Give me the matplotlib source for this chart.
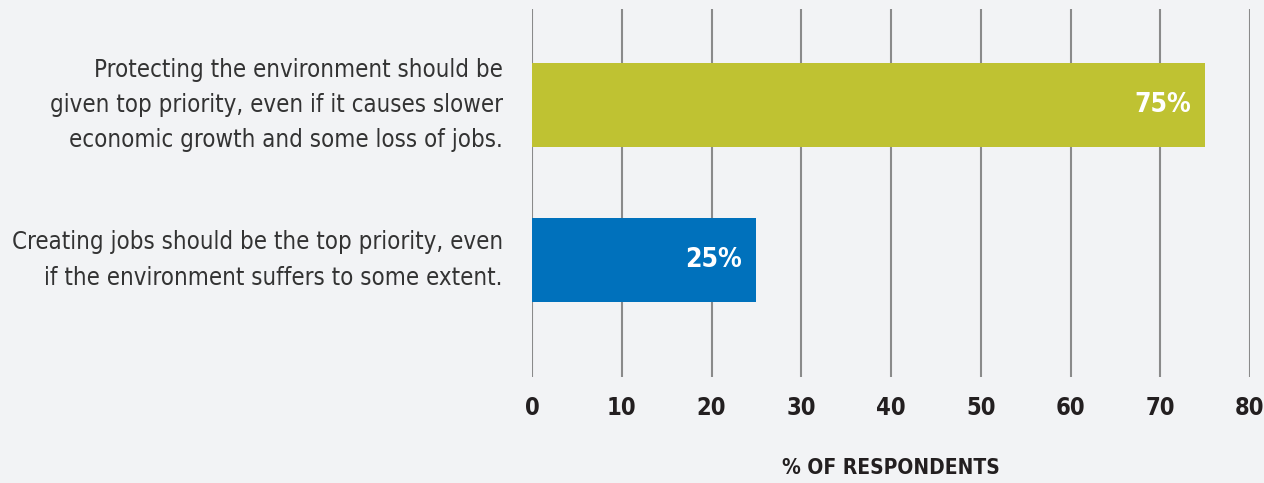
import matplotlib
matplotlib.use("Agg")
import matplotlib.pyplot as plt

# Data
categories = [
    "Protecting the environment should be\ngiven top priority, even if it causes slower\neconomic growth and some loss of jobs.",
    "Creating jobs should be the top priority, even\nif the environment suffers to some extent.",
]
values = [75, 25]
colors = ["#bfc232", "#0071bc"]
xticks = [0, 10, 20, 30, 40, 50, 60, 70, 80]

# condensed face, closest to the original's narrow typeface
plt.rcParams['font.family'] = ['DejaVu Sans']
plt.rcParams['font.stretch'] = 'condensed'

bg = "#f2f3f5"
fig = plt.figure(figsize=(12.64, 4.83), dpi=100, facecolor=bg)
ax = fig.add_axes([532 / 1264, 1 - 377 / 483, (1250 - 532) / 1264, (377 - 9) / 483])
ax.set_facecolor(bg)

ypos = list(range(len(values)))
ax.barh(ypos, values, height=0.54, color=colors, zorder=3)
ax.set_ylim(len(values) - 1 + 0.755, -0.62)
ax.set_xlim(0, 80)

# value labels inside the bar ends
for y, v in zip(ypos, values):
    ax.text(v - 1.6, y, f"{v}%", ha='right', va='center', color='white',
            fontsize=19, fontweight='bold', zorder=4)

ax.set_xticks(xticks)
ax.set_xticklabels([str(t) for t in xticks], fontsize=17, fontweight='bold', color='#231f20')
ax.tick_params(axis='x', length=0, pad=14)
ax.set_yticks(ypos)
ax.set_yticklabels(categories, fontsize=17.2, color='#333333', linespacing=1.6, va='center')
ax.tick_params(axis='y', length=0, pad=21)

ax.grid(axis='x', color='#8a8a8a', linewidth=1.5, zorder=1)
for s in ax.spines.values():
    s.set_visible(False)

ax.set_xlabel("% OF RESPONDENTS", fontsize=15, fontweight='bold', color='#231f20', labelpad=27)

fig.savefig("out.png", dpi=100, facecolor=bg)
